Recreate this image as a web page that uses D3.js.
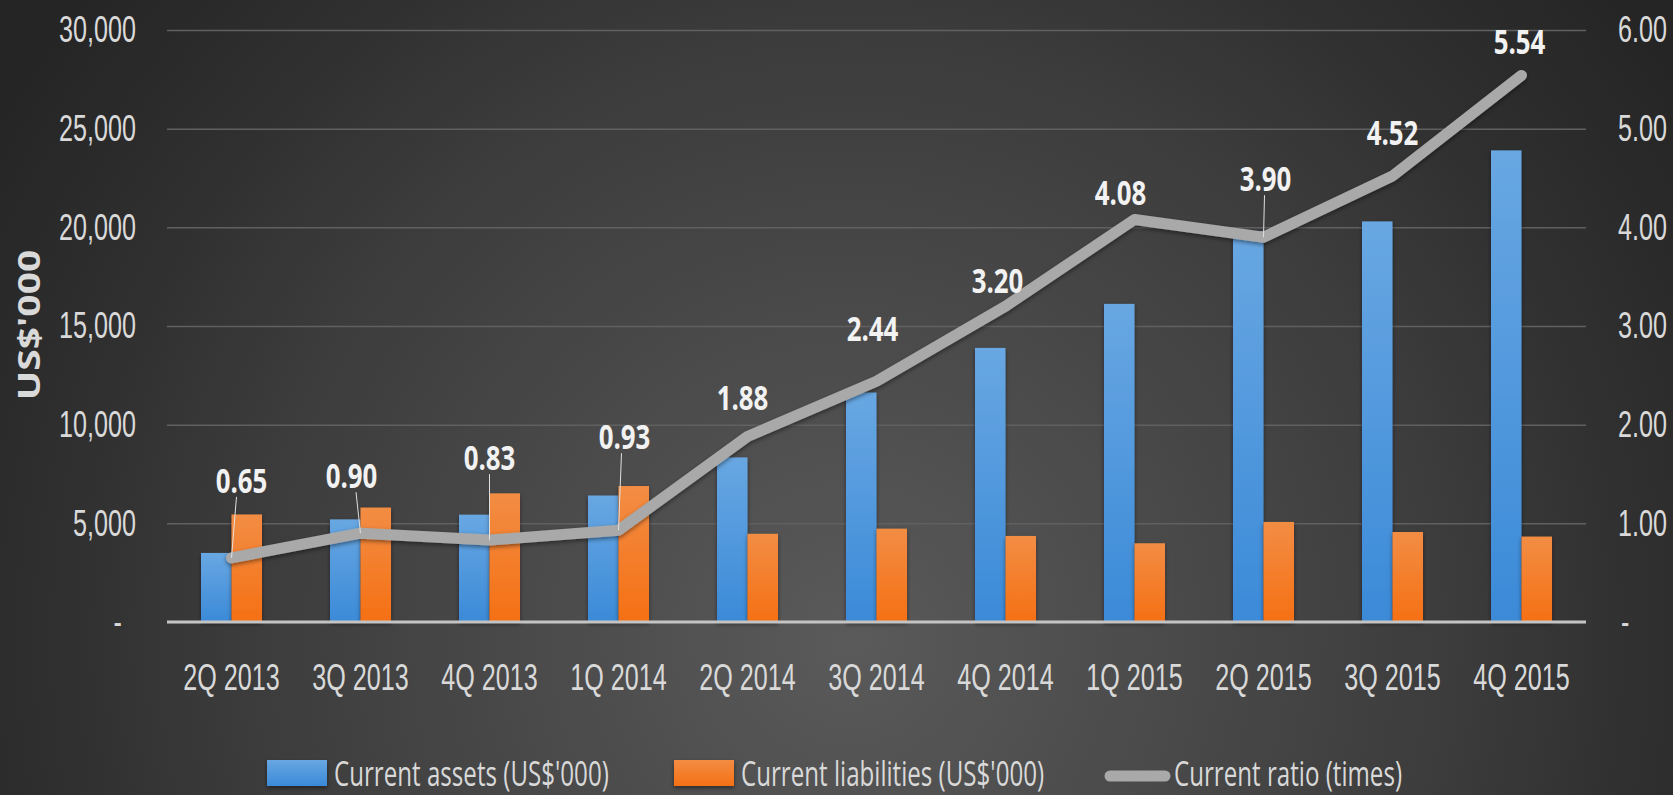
<!DOCTYPE html>
<html lang="en">
<head>
    <meta charset="UTF-8"/>
    <title>Current assets vs liabilities</title>
    <script src="https://d3js.org/d3.v7.min.js"></script>
    <style>
        body { margin: 0; background: #2b2b2b; }
        svg { display: block; font-family: "Open Sans", sans-serif; }
    </style>
</head>
<body>
<div id="chart"></div>

<script>
    // data
    const quarters = ["2Q 2013", "3Q 2013", "4Q 2013", "1Q 2014", "2Q 2014", "3Q 2014",
        "4Q 2014", "1Q 2015", "2Q 2015", "3Q 2015", "4Q 2015"];
    const currentAssets = [3500, 5200, 5440, 6410, 8340, 11630, 13890, 16120, 19800, 20300, 23900];
    const currentLiabilities = [5450, 5800, 6520, 6890, 4470, 4730, 4360, 3990, 5070, 4560, 4330];
    const currentRatio = [0.65, 0.90, 0.83, 0.93, 1.88, 2.44, 3.20, 4.08, 3.90, 4.52, 5.54];
    const leftTicks = [0, 5000, 10000, 15000, 20000, 25000, 30000];
    const rightTicks = [0, 1, 2, 3, 4, 5, 6];
    const seriesNames = ["Current assets (US$'000)", "Current liabilities (US$'000)", "Current ratio (times)"];

    // where the ratio labels were dragged to in the original (px, [dx, lift above point])
    const labelNudge = [[10, 77], [-9, 57], [0, 82], [6, 93], [-5, 39], [-4, 52],
        [-8, 26], [-14, 27], [2, 58], [0, 43], [-2, 34]];

    const W = 1673, H = 795;
    const plot = {left: 167, right: 1586, top: 30, bottom: 622};
    const sx = 0.68; // glyphs in the picture are narrow

    const svg = d3.select("#chart").append("svg")
        .attr("width", W)
        .attr("height", H);

    const defs = svg.append("defs");
    const bg = defs.append("radialGradient").attr("id", "bg")
        .attr("gradientUnits", "userSpaceOnUse")
        .attr("cx", 850).attr("cy", 640).attr("r", 1000);
    [["0", "#5a5a5a"], ["0.6", "#3c3c3c"], ["0.8", "#2f2f2f"], ["1", "#252525"]].forEach(s =>
        bg.append("stop").attr("offset", s[0]).attr("stop-color", s[1]));

    const blueGrad = defs.append("linearGradient").attr("id", "blueGrad")
        .attr("x1", 0).attr("y1", 0).attr("x2", 0).attr("y2", 1);
    blueGrad.append("stop").attr("offset", "0").attr("stop-color", "#68a7e2");
    blueGrad.append("stop").attr("offset", "1").attr("stop-color", "#3b8ad8");
    const orangeGrad = defs.append("linearGradient").attr("id", "orangeGrad")
        .attr("x1", 0).attr("y1", 0).attr("x2", 0).attr("y2", 1);
    orangeGrad.append("stop").attr("offset", "0").attr("stop-color", "#f28d44");
    orangeGrad.append("stop").attr("offset", "1").attr("stop-color", "#f57014");

    const shadow = defs.append("filter").attr("id", "shadow")
        .attr("x", "-20%").attr("y", "-20%").attr("width", "140%").attr("height", "140%");
    shadow.append("feDropShadow").attr("dx", 0).attr("dy", 2).attr("stdDeviation", 2)
        .attr("flood-color", "#000").attr("flood-opacity", 0.45);

    svg.append("rect").attr("width", W).attr("height", H).attr("fill", "url(#bg)");

    // scales
    const x0 = d3.scaleBand().domain(quarters).range([plot.left, plot.right])
        .paddingInner(0.527).paddingOuter(0.2635);
    const x1 = d3.scaleBand().domain(["assets", "liabilities"]).range([0, x0.bandwidth()]);
    const yL = d3.scaleLinear().domain([0, 30000]).range([plot.bottom, plot.top]);
    const yR = d3.scaleLinear().domain([0, 6]).range([plot.bottom, plot.top]);
    const cx = q => x0(q) + x0.bandwidth() / 2;

    // left axis + gridlines
    const gL = svg.append("g")
        .attr("transform", `translate(${plot.left}, 0)`)
        .call(d3.axisLeft(yL).tickValues(leftTicks).tickSize(-(plot.right - plot.left))
            .tickFormat(d => d === 0 ? "-" : d3.format(",")(d)));
    gL.select(".domain").remove();
    gL.selectAll(".tick line").attr("stroke", "#606060").attr("stroke-width", 1.5);
    gL.selectAll(".tick text")
        .attr("x", null).attr("dy", "0.32em")
        .attr("text-anchor", "end")
        .attr("transform", d => `translate(${d === 0 ? -45 : -31}, 0) scale(${sx}, 1)`)
        .style("font-size", "37px").attr("fill", "#d9d9d9");

    // right axis
    const gR = svg.append("g")
        .attr("transform", `translate(${plot.right}, 0)`)
        .call(d3.axisRight(yR).tickValues(rightTicks).tickSize(0)
            .tickFormat(d => d === 0 ? "-" : d.toFixed(2)));
    gR.select(".domain").remove();
    gR.selectAll(".tick text")
        .attr("x", null).attr("dy", "0.32em")
        .attr("text-anchor", "start")
        .attr("transform", d => `translate(${d === 0 ? 35 : 32}, 0) scale(${sx}, 1)`)
        .style("font-size", "37px").attr("fill", "#d9d9d9");

    // axis title
    svg.append("text")
        .attr("transform", `translate(29, 325) rotate(-90) scale(1, 0.78)`)
        .attr("text-anchor", "middle").attr("dy", "0.36em")
        .style("font-size", "39px").style("font-weight", "bold")
        .attr("fill", "#d9d9d9")
        .text("US$'000");

    // bars
    const groups = svg.append("g").selectAll("g")
        .data(quarters)
        .join("g")
        .attr("transform", d => `translate(${x0(d)}, 0)`);
    groups.append("rect")
        .attr("x", x1("assets"))
        .attr("width", x1.bandwidth())
        .attr("y", (d, i) => yL(currentAssets[i]))
        .attr("height", (d, i) => plot.bottom - yL(currentAssets[i]))
        .attr("fill", "url(#blueGrad)")
        .attr("filter", "url(#shadow)");
    groups.append("rect")
        .attr("x", x1("liabilities"))
        .attr("width", x1.bandwidth())
        .attr("y", (d, i) => yL(currentLiabilities[i]))
        .attr("height", (d, i) => plot.bottom - yL(currentLiabilities[i]))
        .attr("fill", "url(#orangeGrad)")
        .attr("filter", "url(#shadow)");

    // category axis
    const gB = svg.append("g")
        .attr("transform", `translate(0, ${plot.bottom})`)
        .call(d3.axisBottom(x0).tickSize(0));
    gB.select(".domain").remove();
    gB.selectAll(".tick text")
        .attr("y", null).attr("dy", null)
        .attr("transform", `translate(0, 68) scale(${sx}, 1)`)
        .style("font-size", "37px").attr("fill", "#d9d9d9");
    svg.append("line")
        .attr("x1", plot.left).attr("x2", plot.right)
        .attr("y1", yL(0)).attr("y2", yL(0))
        .attr("stroke", "#c4c4c4").attr("stroke-width", 3);

    // ratio line
    const line = d3.line()
        .x((d, i) => cx(quarters[i]))
        .y(d => yR(d));
    svg.append("path")
        .datum(currentRatio)
        .attr("d", line)
        .attr("fill", "none")
        .attr("stroke", "#a9a9a9")
        .attr("stroke-width", 11)
        .attr("stroke-linejoin", "round")
        .attr("stroke-linecap", "round")
        .attr("filter", "url(#shadow)");

    // ratio labels with leader lines where moved far
    const labels = svg.append("g").selectAll("g")
        .data(currentRatio)
        .join("g");
    labels.each(function (d, i) {
        const px = cx(quarters[i]), py = yR(d);
        const [dx, lift] = labelNudge[i];
        const g = d3.select(this);
        if (lift > 55) {
            g.append("line")
                .attr("x1", px + dx * 0.5).attr("y1", py - lift + 16)
                .attr("x2", px).attr("y2", py)
                .attr("stroke", "#e0e0e0").attr("stroke-width", 1);
        }
        g.append("text")
            .attr("transform", `translate(${px + dx}, ${py - lift}) scale(0.76, 1)`)
            .attr("text-anchor", "middle").attr("dy", "0.36em")
            .style("font-size", "34px").style("font-weight", "bold")
            .attr("fill", "#f2f2f2")
            .text(d.toFixed(2));
    });

    // legend
    const legend = svg.append("g");
    const legendX = [267, 674, 1106];
    seriesNames.forEach((name, i) => {
        const g = legend.append("g").attr("transform", `translate(${legendX[i]}, 773)`);
        if (i < 2) {
            g.append("rect").attr("x", 0).attr("y", -13).attr("width", 60).attr("height", 26)
                .attr("fill", i === 0 ? "url(#blueGrad)" : "url(#orangeGrad)")
                .attr("filter", "url(#shadow)");
        } else {
            g.append("line").attr("x1", 4).attr("x2", 59).attr("y1", 3).attr("y2", 3)
                .attr("stroke", "#a9a9a9").attr("stroke-width", 11)
                .attr("stroke-linecap", "round");
        }
        g.append("text")
            .attr("transform", `translate(${i < 2 ? 67 : 68}, 13) scale(0.69, 1)`)
            .style("font-size", "35px").attr("fill", "#d9d9d9")
            .text(name);
    });
</script>
</body>
</html>
